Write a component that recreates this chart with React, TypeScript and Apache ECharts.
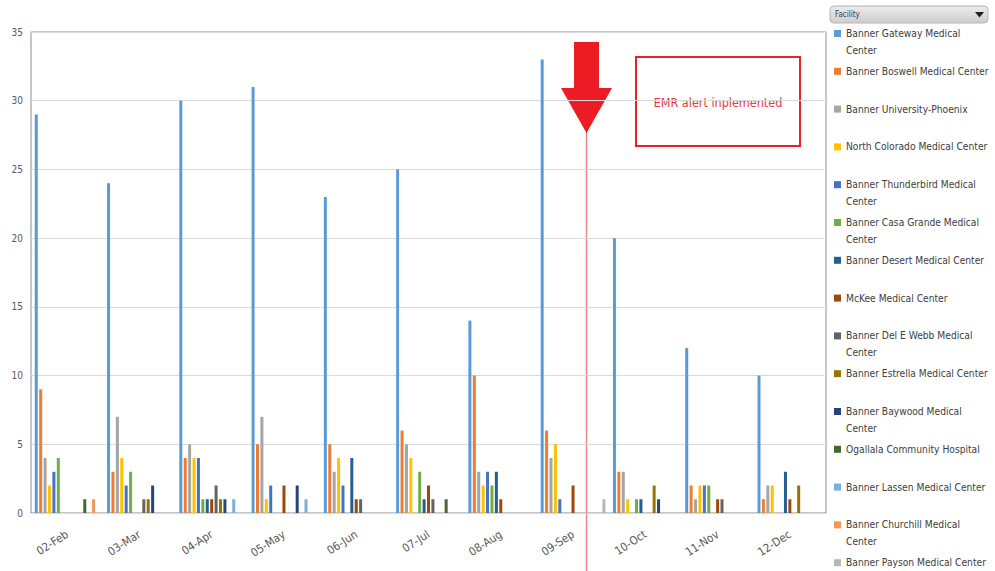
import React, { useEffect, useRef } from "react";
import * as echarts from "echarts";

const categories = ["02-Feb", "03-Mar", "04-Apr", "05-May", "06-Jun", "07-Jul", "08-Aug", "09-Sep", "10-Oct", "11-Nov", "12-Dec"];

const facilityNames = [
  "Banner Gateway Medical Center",
  "Banner Boswell Medical Center",
  "Banner University-Phoenix",
  "North Colorado Medical Center",
  "Banner Thunderbird Medical Center",
  "Banner Casa Grande Medical Center",
  "Banner Desert Medical Center",
  "McKee Medical Center",
  "Banner Del E Webb Medical Center",
  "Banner Estrella Medical Center",
  "Banner Baywood Medical Center",
  "Ogallala Community Hospital",
  "Banner Lassen Medical Center",
  "Banner Churchill Medical Center",
  "Banner Payson Medical Center",
];

// legend line breaks as shown in the reference
const legendLines = [
  ["Banner Gateway Medical", "Center"],
  ["Banner Boswell Medical Center"],
  ["Banner University-Phoenix"],
  ["North Colorado Medical Center"],
  ["Banner Thunderbird Medical", "Center"],
  ["Banner Casa Grande Medical", "Center"],
  ["Banner Desert Medical Center"],
  ["McKee Medical Center"],
  ["Banner Del E Webb Medical", "Center"],
  ["Banner Estrella Medical Center"],
  ["Banner Baywood Medical", "Center"],
  ["Ogallala Community Hospital"],
  ["Banner Lassen Medical Center"],
  ["Banner Churchill Medical", "Center"],
  ["Banner Payson Medical Center"],
];

const colors = ["#5B9BD5", "#ED7D31", "#A5A5A5", "#FFC000", "#4472C4", "#70AD47", "#255E91", "#9E480E", "#636363", "#997300", "#264478", "#43682B", "#7CAFDD", "#F1975A", "#B7B7B7"];

const gateway = [29, 24, 30, 31, 23, 25, 14, 33, 20, 12, 10];
const boswell = [9, 3, 4, 5, 5, 6, 10, 6, 3, 2, 1];
const universityPhoenix = [4, 7, 5, 7, 3, 5, 3, 4, 3, 1, 2];
const northColorado = [2, 4, 4, 1, 4, 4, 2, 5, 1, 2, 2];
const thunderbird = [3, 2, 4, 2, 2, 0, 3, 1, 0, 2, 0];
const casaGrande = [4, 3, 1, 0, 0, 3, 2, 0, 1, 2, 0];
const desert = [0, 0, 1, 0, 4, 1, 3, 0, 1, 0, 3];
const mckee = [0, 0, 1, 2, 1, 2, 1, 2, 0, 1, 1];
const delEWebb = [0, 1, 2, 0, 1, 1, 0, 0, 0, 1, 0];
const estrella = [0, 1, 1, 0, 0, 0, 0, 0, 2, 0, 2];
const baywood = [0, 2, 1, 2, 0, 0, 0, 0, 1, 0, 0];
const ogallala = [1, 0, 0, 0, 0, 1, 0, 0, 0, 0, 0];
const lassen = [0, 0, 1, 1, 0, 0, 0, 0, 0, 0, 0];
const churchill = [1, 0, 0, 0, 0, 0, 0, 0, 0, 0, 0];
const payson = [0, 0, 0, 0, 0, 0, 0, 1, 0, 0, 0];

const seriesValues = [gateway, boswell, universityPhoenix, northColorado, thunderbird, casaGrande, desert, mckee, delEWebb, estrella, baywood, ogallala, lassen, churchill, payson];

const annotationText = "EMR alert inplemented";
const dropdownLabel = "Facility";

const FONT = "'DejaVu Sans Condensed', 'Liberation Sans', sans-serif";

export default function App() {
  const ref = useRef<HTMLDivElement>(null);
  useEffect(() => {
    if (!ref.current) return;
    const chart = echarts.init(ref.current, null, { renderer: "svg" });
    const legendFormat: Record<string, string> = {};
    facilityNames.forEach((n, i) => {
      const l = legendLines[i];
      legendFormat[n] = l.length === 2 ? " \n" + l[0] + "\n" + l[1] : " \n" + l[0] + "\n ";
    });
    chart.setOption({
      animation: false,
      textStyle: { fontFamily: FONT },
      grid: {
        left: 31,
        right: 169,
        top: 32,
        bottom: 58,
        show: true,
        borderColor: "#8c8c8c",
        borderWidth: 1,
      },
      legend: {
        orient: "vertical",
        left: 829,
        top: 3,
        height: 640,
        itemWidth: 7,
        itemHeight: 7,
        itemGap: -13.2,
        icon: "rect",
        data: facilityNames,
        formatter: (name: string) => legendFormat[name] || name,
        textStyle: { color: "#404040", fontSize: 10.2, lineHeight: 17, fontFamily: FONT },
      },
      xAxis: {
        type: "category",
        data: categories,
        axisTick: { show: false },
        axisLine: { lineStyle: { color: "#d9d9d9" } },
        axisLabel: { rotate: 33, color: "#595959", fontSize: 11.5, margin: 20, fontFamily: FONT },
      },
      yAxis: {
        type: "value",
        min: 0,
        max: 35,
        interval: 5,
        axisLine: { show: false },
        axisTick: { show: false },
        splitLine: { lineStyle: { color: "#d9d9d9" } },
        axisLabel: { color: "#595959", fontSize: 10, margin: 8, fontFamily: FONT },
      },
      series: seriesValues.map((vals, i) => ({
        type: "bar",
        name: facilityNames[i],
        data: vals,
        barWidth: 3,
        barGap: "47%",
        itemStyle: { color: colors[i] },
      })),
      graphic: [
        {
          type: "rect",
          shape: { x: 830, y: 6, width: 158, height: 17, r: 4 },
          style: {
            fill: new echarts.graphic.LinearGradient(0, 0, 0, 1, [
              { offset: 0, color: "#ececec" },
              { offset: 1, color: "#cdcdcd" },
            ]),
            stroke: "#b5b5b5",
            lineWidth: 1,
          },
        },
        {
          type: "text",
          x: 835,
          y: 14.5,
          style: { text: dropdownLabel, fill: "#404040", fontSize: 8, fontFamily: FONT, verticalAlign: "middle" },
        },
        {
          type: "polygon",
          shape: { points: [[975, 12], [984, 12], [979.5, 17.5]] },
          style: { fill: "#202020" },
        },
        {
          type: "line",
          shape: { x1: 586.5, y1: 130, x2: 586.5, y2: 571 },
          style: { stroke: "#F2828A", lineWidth: 1.5 },
        },
        {
          type: "polygon",
          shape: {
            points: [
              [574, 42], [599, 42], [599, 88], [612, 88], [586.5, 133], [561, 88], [574, 88],
            ],
          },
          style: { fill: "#ED1C24" },
        },
        {
          type: "rect",
          shape: { x: 636, y: 57, width: 164, height: 89 },
          style: { fill: "#ffffff", stroke: "#E8202A", lineWidth: 2 },
        },
        {
          type: "text",
          x: 718,
          y: 102,
          style: {
            text: annotationText,
            fill: "#F0323C",
            fontSize: 12.5,
            fontFamily: FONT,
            align: "center",
            verticalAlign: "middle",
          },
        },
      ],
    });
    return () => chart.dispose();
  }, []);
  return <div ref={ref} style={{ width: 995, height: 571, position: "absolute", left: 0, top: 0 }} />;
}
